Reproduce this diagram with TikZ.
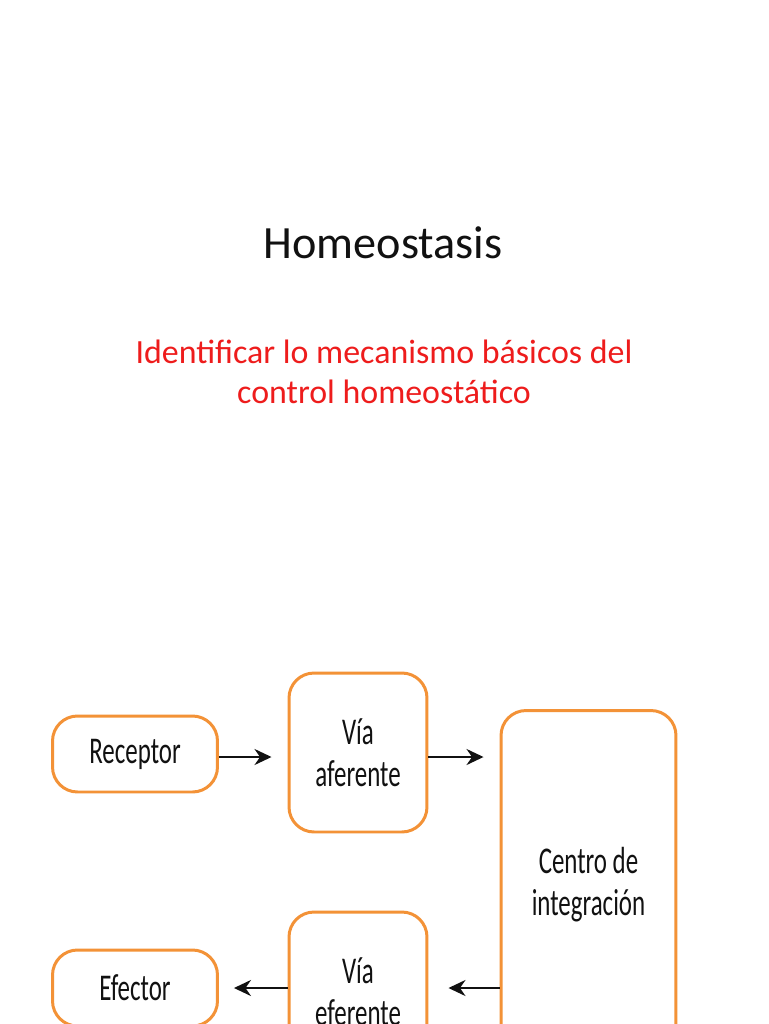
\documentclass[tikz,border=0pt]{standalone}
\usepackage{fontspec}
\setmainfont{Carlito}
\newfontfamily\boxfont[FakeStretch=0.66]{Carlito}
\usetikzlibrary{arrows.meta,positioning}
\definecolor{Page}{HTML}{FFFFFF}
\definecolor{BoxEdge}{HTML}{F39237}
\definecolor{Goal}{HTML}{EE1C1C}
\definecolor{Ink}{HTML}{111111}

\begin{document}
\begin{tikzpicture}[
    x=0.02cm, y=-0.02cm,
    text=Ink,
    stage/.style={
        rounded corners=0.5cm,
        draw=BoxEdge,
        line width=1.7pt,
        fill=white,
        align=center,
        inner sep=0pt,
        font=\boxfont\fontsize{21.5}{24}\selectfont
    },
    flow/.style={
        -{Stealth[length=0.34cm,width=0.32cm]},
        line width=1.3pt,
        draw=Ink
    }
]

% Background
\fill[Page] (0,0) rectangle (768,1024);
\useasboundingbox (0,0) rectangle (768,1024);

% Title
\node[font=\fontsize{26.3}{31}\selectfont] (title) at (383,243) {Homeostasis};

\node[font=\fontsize{19.3}{22.7}\selectfont, text=Goal, align=center] (goal) at (384,372)
{Identificar lo mecanismo básicos del\\control homeostático};

% ===========================
% Control loop
% ===========================

\node[stage, minimum width=3.3cm, minimum height=1.52cm] (rec) at (135,754) {Receptor};
\node[stage, minimum width=2.76cm, minimum height=3.18cm] (aff) at (358,752.5) {Vía\\aferente};
\node[stage, minimum width=3.5cm, minimum height=6.98cm] (ctr) at (588.5,885) {Centro de\\integración};
\node[stage, minimum width=2.76cm, minimum height=3.18cm] (eff) at (358,991.5) {Vía\\eferente};
\node[stage, minimum width=3.3cm, minimum height=1.52cm] (eft) at (135,988) {Efector};

\draw[flow, shorten >=0.32cm] ([yshift=-0.06cm]rec.east) -- ([yshift=-0.06cm]rec.east -| aff.west);
\draw[flow, shorten >=0.32cm] ([yshift=-0.09cm]aff.east) -- ([yshift=-0.09cm]aff.east -| ctr.west);
\draw[flow, shorten >=0.4cm] ([yshift=0.07cm]ctr.west |- eff.east) -- ([yshift=0.07cm]eff.east);
\draw[flow, shorten >=0.3cm] ([yshift=0.07cm]eff.west) -- ([yshift=0.07cm]eff.west -| eft.east);

\end{tikzpicture}
\end{document}
